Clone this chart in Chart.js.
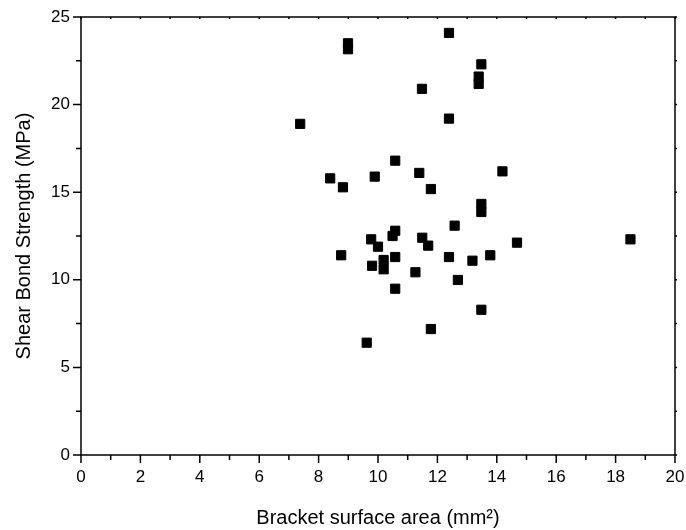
<!DOCTYPE html>
<html>
<head>
<meta charset="utf-8">
<script src="https://cdn.jsdelivr.net/npm/chart.js@4/dist/chart.umd.min.js"></script>
<style>
  html, body { margin: 0; padding: 0; background: #fff; overflow: hidden; }
  .box { width: 686px; height: 530px; position: relative; }
</style>
</head>
<body>
<div class="box"><canvas id="myChart"></canvas></div>
<script>
// bracket surface area (mm2) and matching shear bond strength (MPa)
var areaValues = [7.38, 8.99, 8.99, 12.39, 13.48, 13.39, 13.39, 11.48, 12.39,
  8.39, 8.82, 9.89, 10.58, 11.39, 11.78, 14.19, 13.48, 13.48, 12.58,
  10.58, 10.49, 9.77, 10.0, 11.49, 11.69, 14.68, 18.5, 8.76, 10.19,
  10.19, 10.58, 9.80, 12.39, 13.18, 13.78, 11.26, 12.69, 10.58, 13.48,
  11.78, 9.62];
var strengthValues = [18.9, 23.5, 23.16, 24.09, 22.3, 21.6, 21.18, 20.9, 19.2,
  15.79, 15.28, 15.89, 16.8, 16.1, 15.18, 16.19, 14.33, 13.87, 13.09,
  12.8, 12.5, 12.31, 11.89, 12.4, 11.95, 12.12, 12.31, 11.4, 11.13,
  10.6, 11.3, 10.8, 11.3, 11.09, 11.4, 10.43, 9.99, 9.49, 8.29,
  7.19, 6.41];

var xTitle = 'Bracket surface area (mm\u00B2)';
var yTitle = 'Shear Bond Strength (MPa)';

var points = areaValues.map(function (x, i) {
  return { x: x, y: strengthValues[i] };
});

var fontFamily = "'Liberation Sans', Arial, sans-serif";

// frame with major/minor ticks, origin style
var frameTicks = {
  id: 'frameTicks',
  afterDraw: function (chart) {
    var c = chart.ctx, a = chart.chartArea;
    var xs = chart.scales.x, ys = chart.scales.y;
    c.save();
    c.strokeStyle = '#000';
    c.lineWidth = 1.5;
    c.strokeRect(a.left, a.top, a.right - a.left, a.bottom - a.top);
    c.beginPath();
    for (var v = 0; v <= 20; v++) {
      var px = xs.getPixelForValue(v);
      var len = v % 2 === 0 ? 8 : 5;
      c.moveTo(px, a.bottom); c.lineTo(px, a.bottom + len);
      c.moveTo(px, a.top); c.lineTo(px, a.top + 2);
    }
    for (var w = 0; w <= 25; w += 2.5) {
      var py = ys.getPixelForValue(w);
      var l2 = w % 5 === 0 ? 8 : 5;
      c.moveTo(a.left, py); c.lineTo(a.left - l2, py);
      c.moveTo(a.right, py); c.lineTo(a.right + 2, py);
    }
    c.stroke();
    c.restore();
  }
};

new Chart(document.getElementById('myChart'), {
  type: 'scatter',
  data: {
    datasets: [{
      data: points,
      pointStyle: 'rect',
      radius: 6.5,
      backgroundColor: '#000',
      borderColor: '#000',
      borderWidth: 1
    }]
  },
  options: {
    responsive: true,
    maintainAspectRatio: false,
    animation: false,
    layout: { padding: { left: 0, top: 17, right: 11, bottom: 0 } },
    plugins: { legend: { display: false }, tooltip: { enabled: false } },
    scales: {
      x: {
        type: 'linear', min: 0, max: 20,
        grid: { display: true, drawOnChartArea: false, drawTicks: true, tickLength: 12, tickColor: 'rgba(0,0,0,0)' },
        border: { display: false },
        ticks: {
          stepSize: 2, padding: 0, color: '#000',
          font: { family: fontFamily, size: 17 }
        },
        title: {
          display: true, text: xTitle, color: '#000',
          padding: { top: 4, bottom: 0 },
          font: { family: fontFamily, size: 20 }
        },
        afterFit: function (scale) { scale.height = 75; }
      },
      y: {
        type: 'linear', min: 0, max: 25,
        grid: { display: true, drawOnChartArea: false, drawTicks: true, tickLength: 11, tickColor: 'rgba(0,0,0,0)' },
        border: { display: false },
        ticks: {
          stepSize: 5, padding: 0, color: '#000',
          font: { family: fontFamily, size: 17 }
        },
        title: {
          display: true, text: yTitle, color: '#000',
          padding: { top: 12, bottom: 4 },
          font: { family: fontFamily, size: 20 }
        },
        afterFit: function (scale) { scale.width = 81; }
      }
    }
  },
  plugins: [frameTicks]
});
</script>
</body>
</html>
